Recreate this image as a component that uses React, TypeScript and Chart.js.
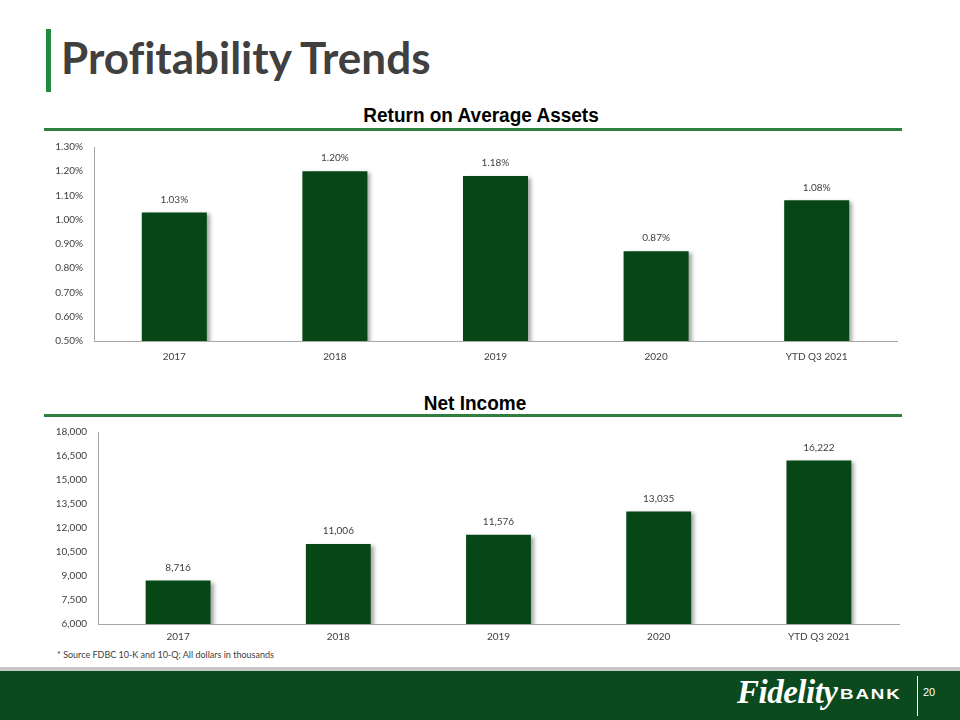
import React, { useEffect, useRef } from "react";
import { Chart, registerables } from "chart.js";

Chart.register(...registerables);

const categories = ["2017", "2018", "2019", "2020", "YTD Q3 2021"];
const roaaValues = [1.03, 1.2, 1.18, 0.87, 1.08];
const netIncomeValues = [8716, 11006, 11576, 13035, 16222];
const roaaTicks = { min: 0.5, max: 1.3, step: 0.1 };
const incomeTicks = { min: 6000, max: 18000, step: 1500 };

const BAR_COLOR = "#074716";
const TEXT_COLOR = "#404040";
const AXIS_COLOR = "#a6a6a6";
const TICK_FONT = "Lato, 'Open Sans', sans-serif";

const shadowPlugin = {
  id: "barShadow",
  beforeDatasetsDraw(chart: any) {
    const ctx = chart.ctx;
    ctx.save();
    ctx.shadowColor = "rgba(0,0,0,0.35)";
    ctx.shadowOffsetX = 3;
    ctx.shadowOffsetY = 2;
    ctx.shadowBlur = 4;
  },
  afterDatasetsDraw(chart: any) {
    chart.ctx.restore();
  },
};

function makeLabelPlugin(fmt: (v: number) => string) {
  return {
    id: "valueLabels",
    afterDraw(chart: any) {
      const ctx = chart.ctx;
      const meta = chart.getDatasetMeta(0);
      const data = chart.data.datasets[0].data as number[];
      ctx.save();
      ctx.fillStyle = TEXT_COLOR;
      ctx.font = `10px ${TICK_FONT}`;
      ctx.textAlign = "center";
      ctx.textBaseline = "middle";
      meta.data.forEach((el: any, i: number) => {
        ctx.fillText(fmt(data[i]), el.x, el.y - 13);
      });
      ctx.restore();
    },
  };
}

type BarChartProps = {
  values: number[];
  ticks: { min: number; max: number; step: number };
  tickFmt: (v: number) => string;
  labelFmt: (v: number) => string;
  yAxisWidth: number;
  xAxisHeight: number;
  padTop: number;
  padRight: number;
  xTickPadding: number;
  width: number;
  height: number;
};

function BarChart(p: BarChartProps) {
  const ref = useRef<HTMLCanvasElement | null>(null);
  useEffect(() => {
    if (!ref.current) return;
    const chart = new Chart(ref.current, {
      type: "bar",
      data: {
        labels: categories,
        datasets: [
          {
            data: p.values,
            backgroundColor: BAR_COLOR,
            borderWidth: 0,
            categoryPercentage: 1,
            barPercentage: 0.405,
          },
        ],
      },
      options: {
        animation: false,
        responsive: false,
        maintainAspectRatio: false,
        layout: { padding: { top: p.padTop, right: p.padRight, left: 0, bottom: 0 } },
        plugins: { legend: { display: false }, tooltip: { enabled: false }, title: { display: false } },
        scales: {
          x: {
            grid: { display: false, drawTicks: false },
            border: { display: true, color: AXIS_COLOR, width: 1 },
            ticks: {
              color: TEXT_COLOR,
              font: { family: TICK_FONT, size: 10 },
              padding: p.xTickPadding,
              maxRotation: 0,
              autoSkip: false,
            },
            afterFit: (s: any) => {
              s.height = p.xAxisHeight;
            },
          },
          y: {
            min: p.ticks.min,
            max: p.ticks.max,
            grid: { display: false, drawTicks: false },
            border: { display: true, color: AXIS_COLOR, width: 1 },
            ticks: {
              stepSize: p.ticks.step,
              color: TEXT_COLOR,
              font: { family: TICK_FONT, size: 10 },
              padding: 11,
              callback: (v: any) => p.tickFmt(Number(v)),
            },
            afterFit: (s: any) => {
              s.width = p.yAxisWidth;
            },
          },
        },
      },
      plugins: [shadowPlugin, makeLabelPlugin(p.labelFmt)],
    });
    return () => chart.destroy();
  }, []);
  return <canvas ref={ref} width={p.width} height={p.height} style={{ width: p.width, height: p.height, display: "block" }} />;
}

const abs = (left: number, top: number, extra: React.CSSProperties = {}): React.CSSProperties => ({
  position: "absolute",
  left,
  top,
  ...extra,
});

export default function App() {
  useEffect(() => {
    document.body.style.margin = "0";
  }, []);
  const chartTitle: React.CSSProperties = {
    fontFamily: "'Liberation Sans', Arial, sans-serif",
    fontWeight: "bold",
    fontSize: 20,
    color: "#000",
    whiteSpace: "nowrap",
    transform: "translateX(-50%) scaleX(0.95)",
    lineHeight: "20px",
  };
  return (
    <div style={{ position: "fixed", left: 0, top: 0, width: 960, height: 720, background: "#fff", overflow: "hidden" }}>
      {/* Title */}
      <div style={abs(46, 29, { width: 5, height: 63, background: "#23893e" })} />
      <div
        style={abs(61, 29, {
          fontFamily: "Lato, 'Open Sans', sans-serif",
          fontWeight: "bold",
          fontSize: 44,
          color: "#404040",
          lineHeight: "56px",
          whiteSpace: "nowrap",
          fontVariantLigatures: "none",
        })}
      >
        Profitability Trends
      </div>

      {/* Chart 1 */}
      <div style={abs(481, 105, chartTitle)}>Return on Average Assets</div>
      <div style={abs(44, 128, { width: 858, height: 3, background: "#2f7f3f" })} />
      <div style={abs(0, 130)}>
        <BarChart
          values={roaaValues}
          ticks={roaaTicks}
          tickFmt={(v) => v.toFixed(2) + "%"}
          labelFmt={(v) => v.toFixed(2) + "%"}
          yAxisWidth={94}
          xAxisHeight={34}
          padTop={0}
          padRight={13}
          xTickPadding={10}
          width={910}
          height={245}
        />
      </div>

      {/* Chart 2 */}
      <div style={abs(475, 393, chartTitle)}>Net Income</div>
      <div style={abs(44, 414, { width: 858, height: 3, background: "#2f7f3f" })} />
      <div style={abs(0, 415)}>
        <BarChart
          values={netIncomeValues}
          ticks={incomeTicks}
          tickFmt={(v) => v.toLocaleString("en-US")}
          labelFmt={(v) => v.toLocaleString("en-US")}
          yAxisWidth={98}
          xAxisHeight={21}
          padTop={0}
          padRight={11}
          xTickPadding={7}
          width={910}
          height={230}
        />
      </div>

      <div
        style={abs(57, 648, {
          fontFamily: TICK_FONT,
          fontSize: 9,
          color: "#404040",
          whiteSpace: "nowrap",
          lineHeight: "14px",
        })}
      >
        * Source FDBC 10-K and 10-Q; All dollars in thousands
      </div>

      {/* Footer */}
      <div style={abs(0, 667, { width: 960, height: 4, background: "#c8c8c8" })} />
      <div style={abs(0, 671, { width: 960, height: 49, background: "#0a4a1e" })} />
      <div
        style={abs(737, 672, {
          fontFamily: "'Liberation Serif', serif",
          fontStyle: "italic",
          fontWeight: "bold",
          fontSize: 33,
          color: "#fff",
          whiteSpace: "nowrap",
          lineHeight: "40px",
          letterSpacing: -0.5,
        })}
      >
        Fidelity
      </div>
      <div
        style={abs(840, 684, {
          fontFamily: "'Liberation Sans', Arial, sans-serif",
          fontWeight: "bold",
          fontSize: 15,
          color: "#fff",
          whiteSpace: "nowrap",
          lineHeight: "20px",
          letterSpacing: 1.5,
          transform: "scaleX(1.25)",
          transformOrigin: "left center",
        })}
      >
        BANK
      </div>
      <div style={abs(917, 676, { width: 1, height: 40, background: "#fff" })} />
      <div
        style={abs(923, 685, {
          fontFamily: "'Liberation Sans', Arial, sans-serif",
          fontSize: 11,
          color: "#fff",
          lineHeight: "14px",
        })}
      >
        20
      </div>
    </div>
  );
}
